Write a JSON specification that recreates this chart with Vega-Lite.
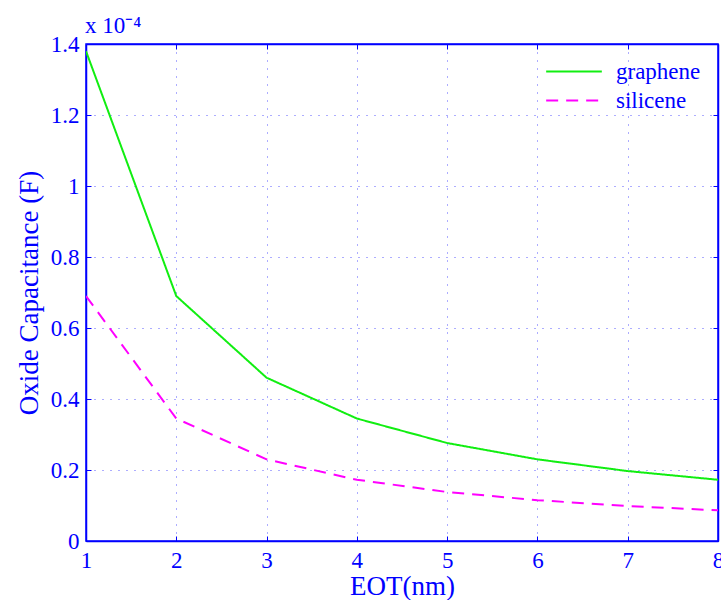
{
  "$schema": "https://vega.github.io/schema/vega-lite/v6.json",
  "width": 632,
  "height": 497,
  "autosize": {"type": "none"},
  "padding": {"left": 86, "top": 44, "right": 3, "bottom": 59},
  "background": "white",
  "title": {"text": "x 10⁻⁴", "anchor": "start", "frame": "group", "font": "Liberation Serif", "fontSize": 23, "fontWeight": "normal", "color": "#0000ff", "offset": -5, "dx": -1},
  "config": {
    "view": {"stroke": "#0000ff", "strokeWidth": 1.5},
    "axis": {
      "labelFont": "Liberation Serif", "labelFontSize": 23, "labelColor": "#0000ff",
      "titleFont": "Liberation Serif", "titleFontSize": 27, "titleFontWeight": "normal", "titleColor": "#0000ff",
      "domainColor": "#0000ff", "tickColor": "#0000ff", "tickSize": -5, "domainWidth": 1.5,
      "gridColor": "#4a4aff", "gridDash": [1, 7], "gridWidth": 1, "gridOpacity": 0.9
    }
  },
  "data": {"values": [
    {"eot": 1, "c": 1.38, "series": "graphene"},
    {"eot": 2, "c": 0.69, "series": "graphene"},
    {"eot": 3, "c": 0.46, "series": "graphene"},
    {"eot": 4, "c": 0.345, "series": "graphene"},
    {"eot": 5, "c": 0.276, "series": "graphene"},
    {"eot": 6, "c": 0.23, "series": "graphene"},
    {"eot": 7, "c": 0.197, "series": "graphene"},
    {"eot": 8, "c": 0.1725, "series": "graphene"},
    {"eot": 1, "c": 0.69, "series": "silicene"},
    {"eot": 2, "c": 0.345, "series": "silicene"},
    {"eot": 3, "c": 0.23, "series": "silicene"},
    {"eot": 4, "c": 0.1725, "series": "silicene"},
    {"eot": 5, "c": 0.138, "series": "silicene"},
    {"eot": 6, "c": 0.115, "series": "silicene"},
    {"eot": 7, "c": 0.0986, "series": "silicene"},
    {"eot": 8, "c": 0.0863, "series": "silicene"}
  ]},
  "layer": [
    {
      "mark": {"type": "line", "strokeWidth": 2, "clip": true},
      "encoding": {
        "x": {"field": "eot", "type": "quantitative", "scale": {"domain": [1, 8], "nice": false},
              "axis": {"title": "EOT(nm)", "values": [1, 2, 3, 4, 5, 6, 7, 8], "labelPadding": 13, "titlePadding": 1, "labelFlush": false}},
        "y": {"field": "c", "type": "quantitative", "scale": {"domain": [0, 1.4], "nice": false},
              "axis": {"title": "Oxide Capacitance (F)", "values": [0, 0.2, 0.4, 0.6, 0.8, 1, 1.2, 1.4], "format": ".1~f", "labelPadding": 12, "titlePadding": 7, "labelFlush": false}},
        "color": {"field": "series", "type": "nominal",
                  "scale": {"domain": ["graphene", "silicene"], "range": ["#11ee11", "#ff00ff"]},
                  "legend": {"title": null, "orient": "none", "legendX": 459, "legendY": 16, "symbolType": "stroke", "symbolSize": 3100, "symbolStrokeWidth": 2, "clipHeight": 23, "labelFont": "Liberation Serif", "labelFontSize": 23, "labelColor": "#0000ff", "rowPadding": 5, "labelOffset": 13}},
        "strokeDash": {"field": "series", "type": "nominal",
                       "scale": {"domain": ["graphene", "silicene"], "range": [[1, 0], [12, 8]]}}
      }
    },
    {
      "mark": {"type": "line", "opacity": 0},
      "encoding": {
        "x": {"field": "eot", "type": "quantitative", "scale": {"domain": [1, 8], "nice": false},
              "axis": {"orient": "top", "values": [1, 2, 3, 4, 5, 6, 7, 8], "labels": false, "title": null, "grid": false}},
        "y": {"field": "c", "type": "quantitative", "scale": {"domain": [0, 1.4], "nice": false},
              "axis": {"orient": "right", "values": [0, 0.2, 0.4, 0.6, 0.8, 1, 1.2, 1.4], "labels": false, "title": null, "grid": false}},
        "detail": {"field": "series"}
      }
    }
  ],
  "resolve": {"axis": {"x": "independent", "y": "independent"}}
}
